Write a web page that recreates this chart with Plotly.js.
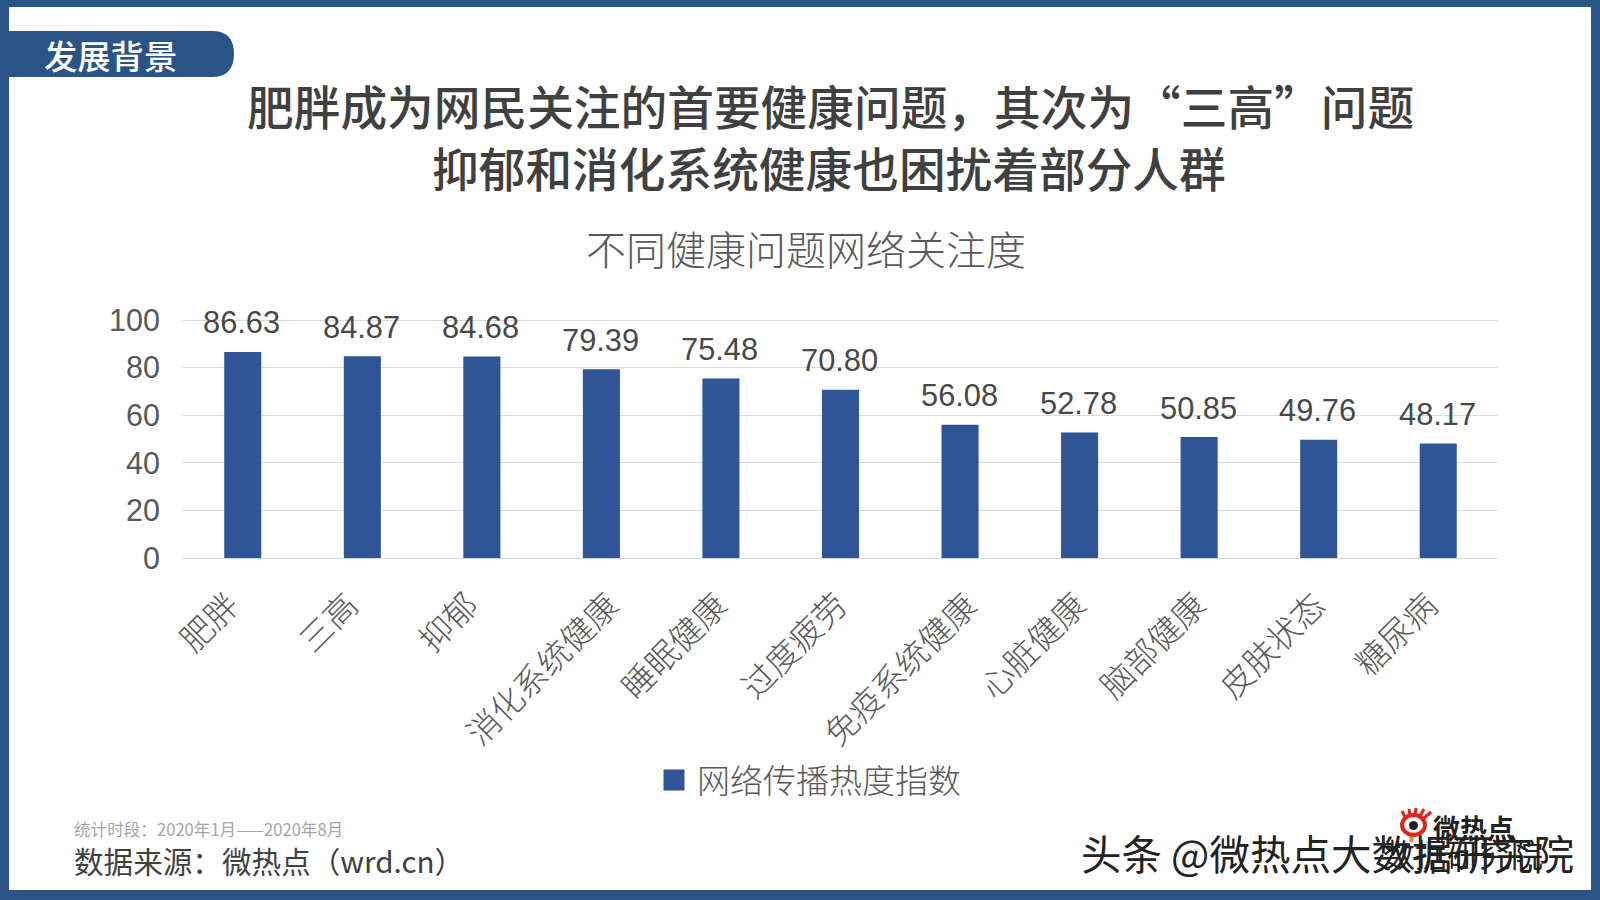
<!DOCTYPE html>
<html><head><meta charset="utf-8">
<script src="https://cdn.plot.ly/plotly-3.0.0.min.js"></script>
<style>html,body{margin:0;padding:0;background:#fff}#c{width:1600px;height:900px}</style></head>
<body><div id="c"></div>
<script>
const categories=['肥胖','三高','抑郁','消化系统健康','睡眠健康','过度疲劳','免疫系统健康','心脏健康','脑部健康','皮肤状态','糖尿病'];
const heatValues=[86.63,84.87,84.68,79.39,75.48,70.80,56.08,52.78,50.85,49.76,48.17];
const valueLabels=['86.63','84.87','84.68','79.39','75.48','70.80','56.08','52.78','50.85','49.76','48.17'];
const yTicks=[0,20,40,60,80,100];
const seriesName='网络传播热度指数';
const FRAME='#2b5486',BAR='#2f5597';
const CJK='"Noto Sans CJK SC","Noto Sans",sans-serif';
const LAT='"Liberation Sans",Arial,sans-serif';
const PL=183,PR=1498,PT=319,PB=558;
const px=x=>(x-PL)/(PR-PL), py=y=>(PB-y)/(PB-PT);

const paperText=(text,x,y,size,color,anchor,weight)=>({xref:'paper',yref:'paper',x:px(x),y:py(y),text,showarrow:false,xanchor:anchor||'center',yanchor:'middle',font:{family:CJK,size,color,weight:weight||400}});
const annotations=[
 paperText('发展背景',110,55,33.3,'#ffffff','center',500),
 paperText('肥胖成为网民关注的首要健康问题，其次为“三高”问题',830,104,46.7,'#404040','center',500),
 paperText('抑郁和消化系统健康也困扰着部分人群',829,167,46.7,'#404040','center',500),
 paperText('统计时段：2020年1月——2020年8月',72,829,16.6,'#a6a6a6','left'),
 paperText('数据来源：微热点（wrd.cn）',72,860,29.6,'#404040','left'),
 paperText('头条 @微热点大数据研究院',1079,852,40.5,'#222222','left'),
 paperText('微热点',1431,827,27,'#222222','left',700),
 paperText('数据研究院',1381,853,32,'#222222','left')
];
categories.forEach((c,i)=>annotations.push({x:c,y:heatValues[i],xref:'x',yref:'y',text:valueLabels[i],showarrow:false,yanchor:'bottom',yshift:9.5,xshift:-1,font:{family:LAT,size:30.8,color:'#484848'}}));
// category labels: the right end of each rotated label sits further from its bar the longer the label is
const labelNudge={2:8,3:11,4:19,6:29};
categories.forEach(c=>annotations.push({x:c,y:0,xref:'x',yref:'y',text:c,showarrow:false,textangle:-45,xanchor:'right',yanchor:'top',xshift:labelNudge[c.length],yshift:-20,font:{family:CJK,size:33,color:'#595959',weight:300}}));
const rect=(x0,y0,x1,y1,color)=>({type:'rect',xref:'paper',yref:'paper',x0:px(x0),x1:px(x1),y0:py(y0),y1:py(y1),fillcolor:color,line:{width:0},layer:'below'});
const ray=(x0,y0,x1,y1,color,w)=>({type:'line',xref:'paper',yref:'paper',x0:px(x0),x1:px(x1),y0:py(y0),y1:py(y1),line:{color,width:w}});
const shapes=[
 rect(0,0,1600,7,FRAME),rect(0,890,1600,900,FRAME),rect(0,0,9,900,FRAME),rect(1591,0,1600,900,FRAME),
 {type:'path',xref:'paper',yref:'paper',layer:'below',fillcolor:FRAME,line:{width:0},
  path:`M${px(9)},${py(31)} L${px(212)},${py(31)} Q${px(234)},${py(31)} ${px(234)},${py(54)} Q${px(234)},${py(77)} ${px(212)},${py(77)} L${px(9)},${py(77)} Z`},
 ray(1412,832,1411,842,'#ee8a3a',4),
 ray(1405,817,1402,811,'#e2231a',3),ray(1410,815,1409,809,'#e2231a',3),ray(1415,815,1416,808,'#e2231a',3),ray(1420,816,1424,809,'#e2231a',3),ray(1423,819,1431,812,'#e2231a',3),
 {type:'circle',xref:'paper',yref:'paper',x0:px(1402),x1:px(1425),y0:py(835),y1:py(815),fillcolor:'#ffffff',line:{color:'#e2231a',width:4}},
 {type:'circle',xref:'paper',yref:'paper',x0:px(1409),x1:px(1418),y0:py(830),y1:py(821),fillcolor:'#222222',line:{width:0}}
];
const bars={type:'bar',x:categories,y:heatValues,marker:{color:BAR},width:0.31,showlegend:false,hoverinfo:'x+y',cliponaxis:false};
const legendKey={type:'scatter',mode:'markers',x:[categories[0]],y:[null],name:seriesName,showlegend:true,marker:{symbol:'square',size:16,color:BAR,line:{color:BAR,width:7}}};
const layout={
 width:1600,height:900,paper_bgcolor:'#ffffff',plot_bgcolor:'#ffffff',
 margin:{l:PL,r:1600-PR,t:PT,b:900-PB,pad:0},
 title:{text:'不同健康问题网络关注度',x:806/1600,xanchor:'center',y:1-251/900,yanchor:'middle',font:{family:CJK,size:40,color:'#595959',weight:300}},
 xaxis:{type:'category',categoryorder:'array',categoryarray:categories,range:[-0.5,10.5],showticklabels:false,ticks:'',showline:true,linecolor:'#d9d9d9',linewidth:1,showgrid:false,fixedrange:true},
 yaxis:{range:[0,100.5],tickvals:yTicks,ticktext:yTicks.map(String),tickfont:{family:LAT,size:30.5,color:'#595959'},ticks:'',showgrid:true,gridcolor:'#d9d9d9',gridwidth:1,zeroline:false,showline:false,ticklabelstandoff:22,fixedrange:true},
 showlegend:true,
 legend:{orientation:'h',xref:'paper',yref:'paper',x:px(651),y:py(780),xanchor:'left',yanchor:'middle',itemwidth:36,font:{family:CJK,size:33,color:'#595959',weight:300},bgcolor:'rgba(0,0,0,0)'},
 annotations,shapes,bargap:0.69
};
Plotly.newPlot('c',[bars,legendKey],layout,{displayModeBar:false,staticPlot:true});
</script></body></html>
